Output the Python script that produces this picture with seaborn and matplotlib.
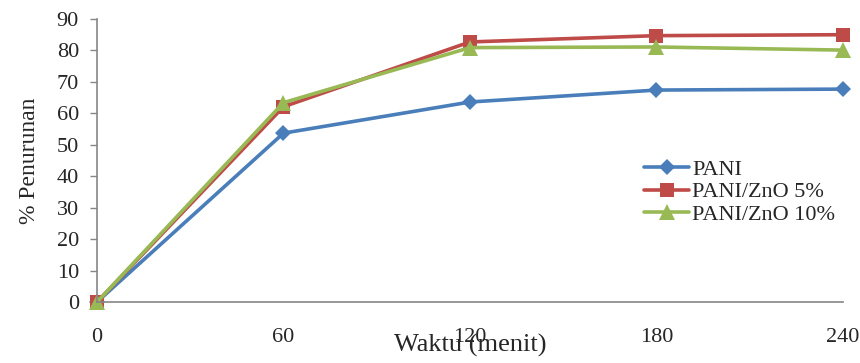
import matplotlib
matplotlib.use("Agg")
import matplotlib.pyplot as plt
import seaborn as sns
import pandas as pd

waktu = [0, 60, 120, 180, 240]
pani = [0, 53.7, 63.6, 67.4, 67.7]
pani_zno5 = [0, 62.1, 82.7, 84.7, 85.0]
pani_zno10 = [0, 63.4, 80.9, 81.1, 80.1]
series_names = ["PANI", "PANI/ZnO 5%", "PANI/ZnO 10%"]
y_ticks = [0, 10, 20, 30, 40, 50, 60, 70, 80, 90]

df = pd.DataFrame({
    "Waktu": waktu * 3,
    "Penurunan": pani + pani_zno5 + pani_zno10,
    "Sampel": [series_names[0]] * 5 + [series_names[1]] * 5 + [series_names[2]] * 5,
})

sns.set_style("white")
plt.rcParams["font.family"] = ["Liberation Serif", "DejaVu Serif"]

colors = {"PANI": "#4a7ebb", "PANI/ZnO 5%": "#be4b48", "PANI/ZnO 10%": "#98b954"}
markers = {"PANI": "D", "PANI/ZnO 5%": "s", "PANI/ZnO 10%": "^"}
msizes = {"PANI": 8, "PANI/ZnO 5%": 10, "PANI/ZnO 10%": 11}

fig = plt.figure(figsize=(8.6, 3.63), dpi=100)
ax = fig.add_axes([0.1128, 0.168, 0.8674, 0.7797])

for name in series_names:
    sub = df[df["Sampel"] == name]
    sns.lineplot(data=sub, x="Waktu", y="Penurunan", ax=ax, color=colors[name],
                 marker=markers[name], markersize=msizes[name], markeredgewidth=0,
                 linewidth=2.6, label=name, legend=False)

ax.set_xlim(0, 240)
ax.set_ylim(0, 90)
ax.set_xticks(waktu)
ax.set_yticks(y_ticks)
ax.tick_params(axis="x", length=0, pad=19, labelsize=16)
ax.tick_params(axis="y", length=5, width=1, color="#868686", direction="out", left=True, pad=8, labelsize=16)
for lab in ax.get_xticklabels() + ax.get_yticklabels():
    lab.set_fontfamily(["Liberation Serif", "DejaVu Serif"])

for s in ["top", "right"]:
    ax.spines[s].set_visible(False)
for s in ["left", "bottom"]:
    ax.spines[s].set_color("#868686")
    ax.spines[s].set_linewidth(1.2)
for ln in ax.lines:
    ln.set_clip_on(False)

ax.set_xlabel("Waktu (menit)", fontsize=19, labelpad=-10)
ax.set_ylabel("% Penurunan", fontsize=17, labelpad=12)

leg = ax.legend(loc="upper left", bbox_to_anchor=(0.722, 0.535), frameon=False,
                fontsize=16, handlelength=2.0, handletextpad=0.15, labelspacing=0.08,
                borderaxespad=0)

fig.savefig("out.png", dpi=100)
